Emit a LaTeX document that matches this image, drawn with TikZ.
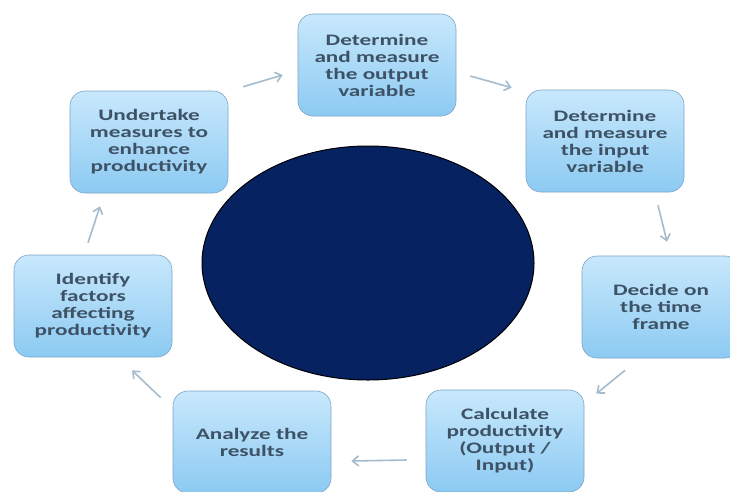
\documentclass[tikz,border=0pt]{standalone}
\usepackage{fontspec}
\newfontfamily\boxfont{Carlito}[FakeStretch=1.45]
\usetikzlibrary{arrows.meta,shapes.geometric}
\definecolor{boxtop}{RGB}{200,232,252}
\definecolor{boxbot}{RGB}{140,202,242}
\definecolor{boxline}{RGB}{125,165,200}
\definecolor{txt}{RGB}{62,82,102}
\definecolor{arrc}{RGB}{165,188,206}
\definecolor{navy}{RGB}{6,34,96}
\tikzset{
  stepbox/.style={draw=boxline, line width=0.6pt, rounded corners=15pt,
    top color=boxtop, bottom color=boxbot,
    minimum width=158pt, minimum height=102pt, inner sep=0pt,
    align=center, text=txt, font=\boxfont\bfseries\fontsize{16}{17}\selectfont},
  arr/.style={draw=arrc, line width=1.6pt, -{Straight Barb[length=6pt,width=10pt]}}
}
\begin{document}
\begin{tikzpicture}[x=1pt,y=-1pt]
\clip (0,0) rectangle (730,491);
\fill[white] (0,0) rectangle (730,491);
\node[draw=black, line width=1pt, fill=navy, ellipse, minimum width=332pt, minimum height=234pt, inner sep=0pt] (hub) at (368,263) {};
\node[stepbox] (n1) at (377,65) {Determine\\and measure\\the output\\variable};
\node[stepbox] (n2) at (605,141) {Determine\\and measure\\the input\\variable};
\node[stepbox] (n3) at (661,307) {Decide on\\the time\\frame};
\node[stepbox] (n4) at (505,441) {Calculate\\productivity\\(Output /\\Input)};
\node[stepbox] (n5) at (252,442) {Analyze the\\results};
\node[stepbox] (n6) at (93,306) {Identify\\factors\\affecting\\productivity};
\node[stepbox] (n7) at (149,142) {Undertake\\measures to\\enhance\\productivity};
\draw[arr] ([shift={(15,-4)}]n7.north east) -- ([shift={(-15,10)}]n1.west);
\draw[arr] ([shift={(14,11)}]n1.east) -- ([shift={(-14,-2)}]n2.north west);
\draw[arr] ([shift={(53,13)}]n2.south) -- ([shift={(6,-14)}]n3.north);
\draw[arr] ([shift={(-36,12)}]n3.south) -- ([shift={(12,4)}]n4.north east);
\draw[arr] ([shift={(-19,19)}]n4.west) -- ([shift={(20,19)}]n5.east);
\draw[arr] ([shift={(-12,7)}]n5.north west) -- ([shift={(39,13)}]n6.south);
\draw[arr] ([shift={(-5,-12)}]n6.north) -- ([shift={(-49,13)}]n7.south);
\end{tikzpicture}
\end{document}
